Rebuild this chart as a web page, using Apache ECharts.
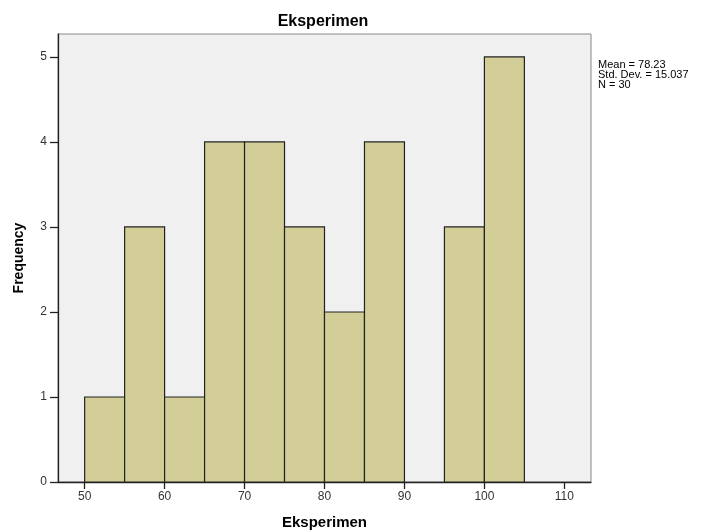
<!DOCTYPE html>
<html>
<head>
<meta charset="utf-8">
<style>
html, body { margin: 0; padding: 0; background: #fff; }
#chart { width: 715px; height: 531px; }
</style>
</head>
<body>
<div id="chart"></div>
<script src="https://cdn.jsdelivr.net/npm/echarts@6/dist/echarts.min.js"></script>
<script>
// histogram bins (lower edge) and counts
const binStart = [50, 55, 60, 65, 70, 75, 80, 85, 90, 95, 100]
const binWidth = 5
const freq = [1, 3, 1, 4, 4, 3, 2, 4, 0, 3, 5]
const xTicks = [50, 60, 70, 80, 90, 100, 110]
const yTicks = [0, 1, 2, 3, 4, 5]
const stats = ['Mean = 78.23', 'Std. Dev. = 15.037', 'N = 30']

const data = binStart.map((s, i) => [s, s + binWidth, freq[i]])

const chart = echarts.init(document.getElementById('chart'))
const option = {
  animation: false,
  title: {
    text: 'Eksperimen',
    left: 318,
    top: 9,
    textAlign: 'center',
    textStyle: { fontFamily: 'Arial, Liberation Sans', fontSize: 16, fontWeight: 'bold', color: '#000' }
  },
  graphic: [{
    type: 'text',
    left: 598,
    top: 59,
    style: {
      text: stats.join('\n'),
      font: '11px Arial, Liberation Sans',
      lineHeight: 10,
      fill: '#000'
    }
  }],
  grid: {
    left: 58, right: 124, top: 34, bottom: 49,
    outerBoundsMode: 'none',
    containLabel: false,
    show: true,
    backgroundColor: '#f0f0f0',
    borderColor: '#888',
    borderWidth: 1
  },
  xAxis: {
    type: 'value',
    min: 46.667,
    max: 113.333,
    name: 'Eksperimen',
    nameLocation: 'middle',
    nameGap: 33,
    nameTextStyle: { fontFamily: 'Arial, Liberation Sans', fontSize: 15, fontWeight: 'bold', color: '#000' },
    splitLine: { show: false },
    axisLine: { onZero: false, lineStyle: { color: '#222', width: 1.3 } },
    axisTick: { show: true, length: 7, customValues: xTicks, lineStyle: { color: '#222', width: 1.3 } },
    axisLabel: { customValues: xTicks, margin: 9, fontFamily: 'Arial, Liberation Sans', fontSize: 12, color: '#333' }
  },
  yAxis: {
    type: 'value',
    min: 0,
    max: 5.27,
    name: 'Frequency',
    nameLocation: 'middle',
    nameGap: 32,
    nameTextStyle: { fontFamily: 'Arial, Liberation Sans', fontSize: 14, fontWeight: 'bold', color: '#000' },
    splitLine: { show: false },
    axisLine: { show: true, lineStyle: { color: '#222', width: 1.3 } },
    axisTick: { show: true, length: 8, customValues: yTicks, lineStyle: { color: '#222', width: 1.3 } },
    axisLabel: { customValues: yTicks, margin: 11, fontFamily: 'Arial, Liberation Sans', fontSize: 12, color: '#333' }
  },
  series: [{
    type: 'custom',
    data: data,
    encode: { x: [0, 1], y: 2 },
    renderItem: function (params, api) {
      if (!api.value(2)) return null
      const p0 = api.coord([api.value(0), api.value(2)])
      const p1 = api.coord([api.value(1), 0])
      return {
        type: 'rect',
        shape: { x: p0[0], y: p0[1], width: p1[0] - p0[0], height: p1[1] - p0[1] },
        style: { fill: '#d3ce97', stroke: '#222', lineWidth: 1.2 }
      }
    }
  }]
}
chart.setOption(option)
window.addEventListener('resize', () => {
  chart.resize()
})
</script>
</body>
</html>
